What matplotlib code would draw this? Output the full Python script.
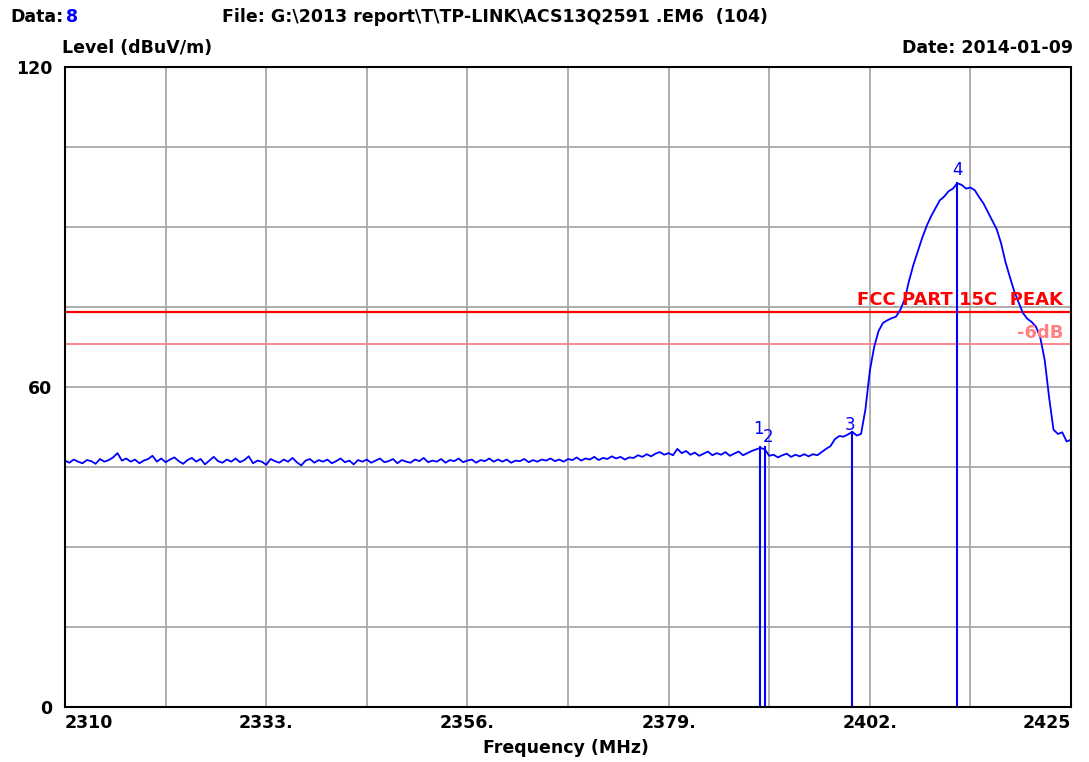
import numpy as np
import matplotlib
matplotlib.use("Agg")
import matplotlib.pyplot as plt

plt.rcParams['font.family'] = ['DejaVu Sans']
plt.rcParams['font.weight'] = 'bold'

# trace, 0.5 MHz steps from 2310 to 2425
f_start = 2310.0
f_step = 0.5
level = [
    46.2, 45.8, 46.4, 46.0, 45.7, 46.3, 46.1, 45.6, 46.5, 46.0,
    46.3, 46.8, 47.6, 46.2, 46.6, 46.0, 46.4, 45.7, 46.2, 46.5,
    47.1, 46.0, 46.6, 45.9, 46.4, 46.8, 46.1, 45.6, 46.3, 46.7,
    46.0, 46.5, 45.5, 46.2, 46.9, 46.1, 45.8, 46.4, 46.0, 46.6,
    45.9, 46.3, 47.0, 45.7, 46.2, 46.0, 45.4, 46.5, 46.1, 45.8,
    46.4, 46.0, 46.7, 45.9, 45.3, 46.2, 46.5, 45.8, 46.3, 46.0,
    46.4, 45.7, 46.1, 46.6, 45.9, 46.2, 45.5, 46.3, 46.0, 46.4,
    45.8, 46.2, 46.6, 45.9, 46.1, 46.5, 45.7, 46.3, 46.0, 45.8,
    46.4, 46.1, 46.7, 45.9, 46.2, 46.0, 46.5, 45.8, 46.3, 46.1,
    46.6, 45.9, 46.2, 46.4, 45.8, 46.3, 46.1, 46.6, 46.0, 46.4,
    46.0, 46.4, 45.8, 46.2, 46.1, 46.5, 45.9, 46.3, 46.0, 46.4,
    46.2, 46.6, 46.1, 46.4, 46.0, 46.5, 46.3, 46.8, 46.2, 46.6,
    46.4, 46.9, 46.3, 46.7, 46.5, 47.0, 46.6, 46.9, 46.4, 46.8,
    46.7, 47.2, 46.9, 47.4, 47.0, 47.5, 47.8, 47.3, 47.6, 47.2,
    48.4, 47.6, 48.0, 47.3, 47.7, 47.1, 47.5, 47.9, 47.2, 47.6,
    47.3, 47.8, 47.1, 47.5, 47.9, 47.2, 47.6, 48.0, 48.3, 48.6,
    48.3, 47.1, 47.3, 46.8, 47.2, 47.5, 46.9, 47.3, 47.0, 47.4,
    47.0, 47.4, 47.2, 47.8, 48.4, 48.9, 50.2, 50.8, 50.7, 51.1,
    51.6, 50.9, 51.2, 55.8, 63.0, 67.5, 70.5, 72.0, 72.5, 72.9,
    73.2, 74.5, 76.5, 80.0, 83.0, 85.5, 88.0, 90.2, 92.0, 93.5,
    95.0, 95.7, 96.7, 97.2, 98.2, 97.9, 97.2, 97.4, 96.9, 95.6,
    94.4, 92.8, 91.2, 89.6, 87.0, 83.5, 80.7, 78.0, 75.9, 73.9,
    72.8, 72.2, 71.3, 69.2, 65.0, 58.0, 52.0, 51.2, 51.5, 49.8,
    50.1,
]
freq = f_start + f_step * np.arange(len(level))

# markers
mk_names = ['1', '2', '3', '4']
mk_freq = [2389.5, 2390.0, 2400.0, 2412.0]
mk_level = [48.8, 48.7, 51.6, 98.2]
mk_offset = [(-1.5, 13), (2, 7.5), (-1.5, 5), (0, 9.5)]

limit_peak = 74
limit_6db = 68

x_grid = [2310 + 11.5 * k for k in range(11)]
x_labels = ['2310', '', '2333.', '', '2356.', '', '2379.', '', '2402.', '', '2425']
y_grid = [15 * k for k in range(9)]
y_labels = ['0', '', '', '', '60', '', '', '', '120']

W, H = 1089, 762
fig = plt.figure(figsize=(W / 100, H / 100), dpi=100)
ax = fig.add_axes([65 / W, 1 - 707 / H, (1071 - 65) / W, (707 - 67) / H])

ax.set_xlim(2310, 2425)
ax.set_ylim(0, 120)
ax.set_xticks(x_grid)
ax.set_xticklabels(x_labels, fontsize=12.5, fontweight='bold')
ax.set_yticks(y_grid)
ax.set_yticklabels(y_labels, fontsize=12.5, fontweight='bold')
ax.tick_params(length=0)
ax.tick_params(axis='x', pad=5)
ax.tick_params(axis='y', pad=9)
xt = ax.get_xticklabels()
xt[0].set_ha('left')
xt[-1].set_ha('right')
ax.grid(True, color='#a8a8a8', lw=1.3)
for s in ax.spines.values():
    s.set_linewidth(1.5)
    s.set_color('black')

ax.axhline(limit_peak, color='#ff0000', lw=1.6)
ax.axhline(limit_6db, color='#ff8080', lw=1.3)
ax.text(2424.1, 76.4, 'FCC PART 15C  PEAK', color='#ff0000', fontsize=13,
        fontweight='bold', ha='right', va='center')
ax.text(2424.1, 70.2, '-6dB', color='#ff8080', fontsize=13,
        fontweight='bold', ha='right', va='center')

ax.plot(freq, level, color='#0000ff', lw=1.3)
for name, f, lv, off in zip(mk_names, mk_freq, mk_level, mk_offset):
    ax.plot([f, f], [0, lv], color='#0000ff', lw=1.5)
    ax.annotate(name, (f, lv), xytext=off, textcoords='offset points',
                color='#0000ff', fontsize=12, fontweight='normal',
                ha='center', va='center')

def ftext(x, y, s, **kw):
    fig.text(x / W, 1 - y / H, s, va='center', fontsize=12.5,
             fontweight='bold', **kw)

ftext(10, 17, 'Data:')
ftext(66, 17, '8', color='#0000ff')
ftext(222, 17, 'File: G:\\2013 report\\T\\TP-LINK\\ACS13Q2591 .EM6  (104)')
ftext(62, 48, 'Level (dBuV/m)')
ftext(1073, 48, 'Date: 2014-01-09', ha='right')
ftext(566, 748, 'Frequency (MHz)', ha='center')

fig.savefig('out.png', dpi=100)
